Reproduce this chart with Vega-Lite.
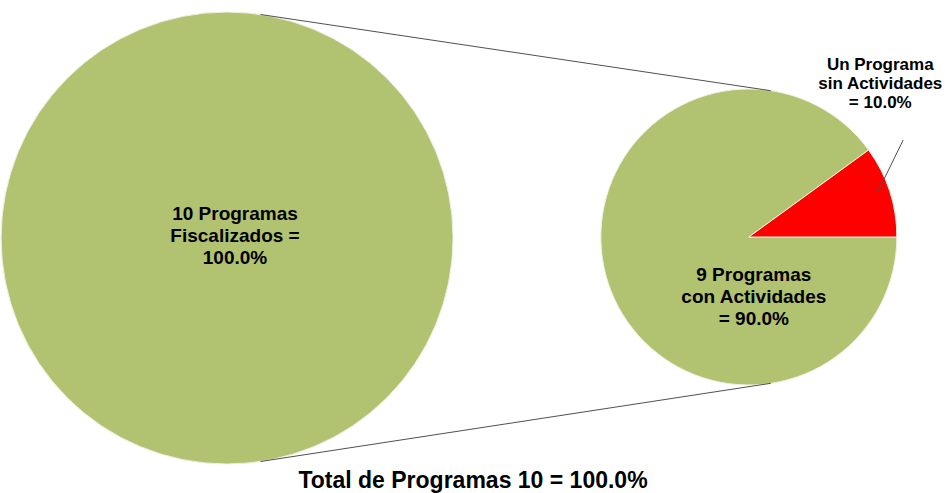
{
  "$schema": "https://vega.github.io/schema/vega-lite/v6.json",
  "width": 945,
  "height": 493,
  "padding": 0,
  "autosize": {"type": "fit", "contains": "padding"},
  "background": "#ffffff",
  "config": {"view": {"stroke": null}, "text": {"font": "Liberation Sans", "fontWeight": "bold", "color": "#000000"}},
  "datasets": {
    "arcs": [
      {"part": "total", "cx": 224, "cy": 238, "r": 226, "start": 0, "end": 100},
      {"part": "con", "cx": 748, "cy": 237, "r": 148, "start": 0, "end": 90},
      {"part": "sin", "cx": 748, "cy": 237, "r": 148, "start": 90, "end": 100}
    ],
    "lines": [
      {"x1": 257.6, "y1": 14.5, "x2": 770, "y2": 90.7},
      {"x1": 257.6, "y1": 461.5, "x2": 770, "y2": 383.3},
      {"x1": 877, "y1": 193, "x2": 903, "y2": 140}
    ],
    "bigLabels": [
      {"tx": 232, "ty": 220, "label": "10 Programas\nFiscalizados  =\n100.0%"},
      {"tx": 753, "ty": 281, "label": "9 Programas\ncon Actividades\n= 90.0%"}
    ],
    "smallLabels": [
      {"tx": 880, "ty": 70, "label": "Un Programa\nsin Actividades\n= 10.0%"}
    ],
    "total": [
      {"tx": 471, "ty": 488, "label": "Total de Programas 10 = 100.0%"}
    ]
  },
  "encoding": {
    "x": {"type": "quantitative", "scale": {"domain": [0, 945]}, "axis": null},
    "y": {"type": "quantitative", "scale": {"domain": [0, 493], "reverse": true}, "axis": null}
  },
  "layer": [
    {
      "data": {"name": "arcs"},
      "mark": {"type": "arc", "stroke": "#eef1e2", "strokeWidth": 1},
      "encoding": {
        "x": {"field": "cx", "type": "quantitative"},
        "y": {"field": "cy", "type": "quantitative"},
        "theta": {"field": "start", "type": "quantitative", "stack": null, "scale": {"domain": [0, 100], "range": [1.5708, 7.854]}},
        "theta2": {"field": "end"},
        "radius": {"field": "r", "type": "quantitative", "scale": {"type": "linear", "zero": true, "domain": [0, 246.5], "range": [0, 246.5]}},
        "color": {"field": "part", "type": "nominal", "scale": {"domain": ["total", "con", "sin"], "range": ["#B1C270", "#B1C270", "#FF0000"]}, "legend": null}
      }
    },
    {
      "data": {"name": "lines"},
      "mark": {"type": "rule", "color": "#505050", "strokeWidth": 1},
      "encoding": {
        "x": {"field": "x1", "type": "quantitative"},
        "y": {"field": "y1", "type": "quantitative"},
        "x2": {"field": "x2"},
        "y2": {"field": "y2"}
      }
    },
    {
      "data": {"name": "bigLabels"},
      "mark": {"type": "text", "fontSize": 19, "lineHeight": 22, "align": "center", "baseline": "alphabetic", "lineBreak": "\n"},
      "encoding": {
        "x": {"field": "tx", "type": "quantitative"},
        "y": {"field": "ty", "type": "quantitative"},
        "text": {"field": "label"}
      }
    },
    {
      "data": {"name": "smallLabels"},
      "mark": {"type": "text", "fontSize": 17, "lineHeight": 19, "align": "center", "baseline": "alphabetic", "lineBreak": "\n"},
      "encoding": {
        "x": {"field": "tx", "type": "quantitative"},
        "y": {"field": "ty", "type": "quantitative"},
        "text": {"field": "label"}
      }
    },
    {
      "data": {"name": "total"},
      "mark": {"type": "text", "fontSize": 23, "align": "center", "baseline": "alphabetic"},
      "encoding": {
        "x": {"field": "tx", "type": "quantitative"},
        "y": {"field": "ty", "type": "quantitative"},
        "text": {"field": "label"}
      }
    }
  ]
}
